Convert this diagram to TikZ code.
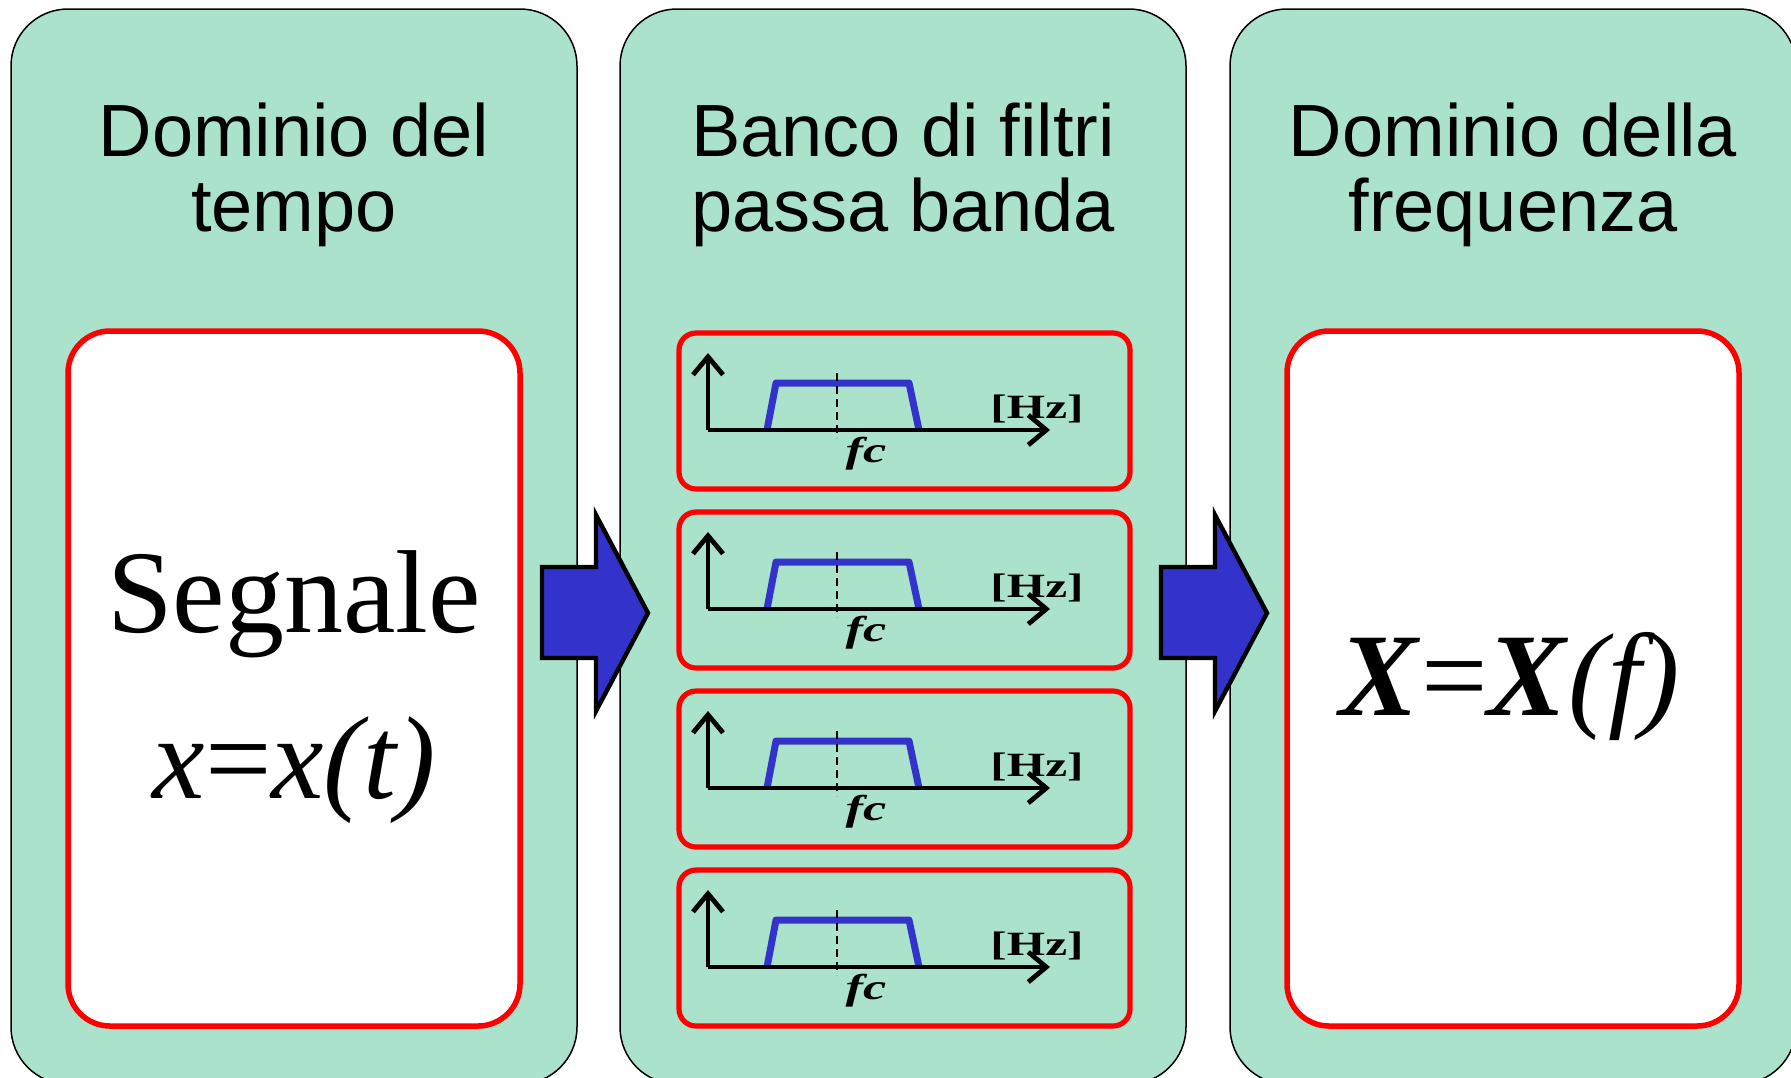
\documentclass[tikz,border=0pt]{standalone}
\usepackage{fontspec}
\setmainfont{Liberation Serif}
\newfontfamily\sansfont{Liberation Sans}
\newfontfamily\widefont[FakeStretch=1.45]{Liberation Serif}
\usepackage{tikz}
\usetikzlibrary{arrows.meta}
\definecolor{menta}{RGB}{170,226,204}
\definecolor{blu}{RGB}{51,51,204}
\newcommand{\passband}[1]{%
\begin{scope}[shift={(#1.north west)}]
\draw [blu,line width=3.5pt,line join=round] (88,97) -- (97,50) -- (230,50) -- (240,97);
\draw [axis] (29,97) -- (29,20);
\draw [axis] (29,97) -- (371,97);
\draw [line width=1pt,dash pattern=on 4pt off 2.5pt] (158,40) -- (158,105);
\node (#1fc) at (187,121)[inner sep=0pt,font=\widefont\bfseries\itshape\fontsize{18}{18}\selectfont] {fc};
\node (#1hz) at (358,76)[inner sep=0pt,font=\widefont\bfseries\fontsize{17}{17}\selectfont] {[Hz]};
\end{scope}}

\begin{document}
\begin{tikzpicture}[x=0.5pt,y=-0.5pt,
  panel/.style={draw=black,line width=0.75pt,fill=menta,rounded corners=28.5pt,minimum width=283pt,minimum height=537.5pt,inner sep=0pt,outer sep=0pt},
  redbox/.style={draw=red,line width=2.75pt,fill=white,rounded corners=21pt,minimum width=226pt,minimum height=347.5pt,inner sep=0pt,outer sep=0pt},
  filterbox/.style={draw=red,line width=2.6pt,fill=menta,rounded corners=8.5pt,minimum width=225.5pt,minimum height=78pt,inner sep=0pt,outer sep=0pt},
  axis/.style={line width=2.4pt,-{Straight Barb[length=9pt,width=15pt]}},
  bigarrow/.style={draw=black,line width=2.2pt,fill=blu,line join=miter},
  title/.style={anchor=north,inner sep=0pt,align=center,font=\sansfont\fontsize{37}{37.5}\selectfont},
  bigtext/.style={anchor=base,inner sep=0pt,font=\fontsize{59}{60}\selectfont}]
\clip (0,0) rectangle (1791,1077);

\node (tempo) at (294,546.5)[panel] {};
\node (banco) at (903,546.5)[panel] {};
\node (freq) at (1513,546.5)[panel] {};

\node (ttempo) at (294,102)[title] {Dominio del\\tempo};
\node (tbanco) at (903,102)[title] {Banco di filtri\\passa banda};
\node (tfreq) at (1513,102)[title] {Dominio della\\frequenza};

\node (segnale) at (294,678.5)[redbox] {};
\node (sx) at (294,632)[bigtext] {Segnale};
\node (sxt) at (294,798)[bigtext] {\textit{x}=\textit{x(t)}};
\node (spettro) at (1513,678.5)[redbox] {};
\node (sxf) at (1510,715)[bigtext] {\textbf{\textit{X}}=\textbf{\textit{X}}\textit{(f)}};

\node (F1) at (904.5,411)[filterbox] {};
\node (F2) at (904.5,590)[filterbox] {};
\node (F3) at (904.5,769)[filterbox] {};
\node (F4) at (904.5,948)[filterbox] {};
\passband{F1}
\passband{F2}
\passband{F3}
\passband{F4}

\draw [bigarrow] (542,567) -- (596,567) -- (596,515) -- (648,613) -- (596,711) -- (596,658) -- (542,658) -- cycle;
\draw [bigarrow] (1161,567) -- (1215,567) -- (1215,515) -- (1267,613) -- (1215,711) -- (1215,658) -- (1161,658) -- cycle;
\end{tikzpicture}
\end{document}
